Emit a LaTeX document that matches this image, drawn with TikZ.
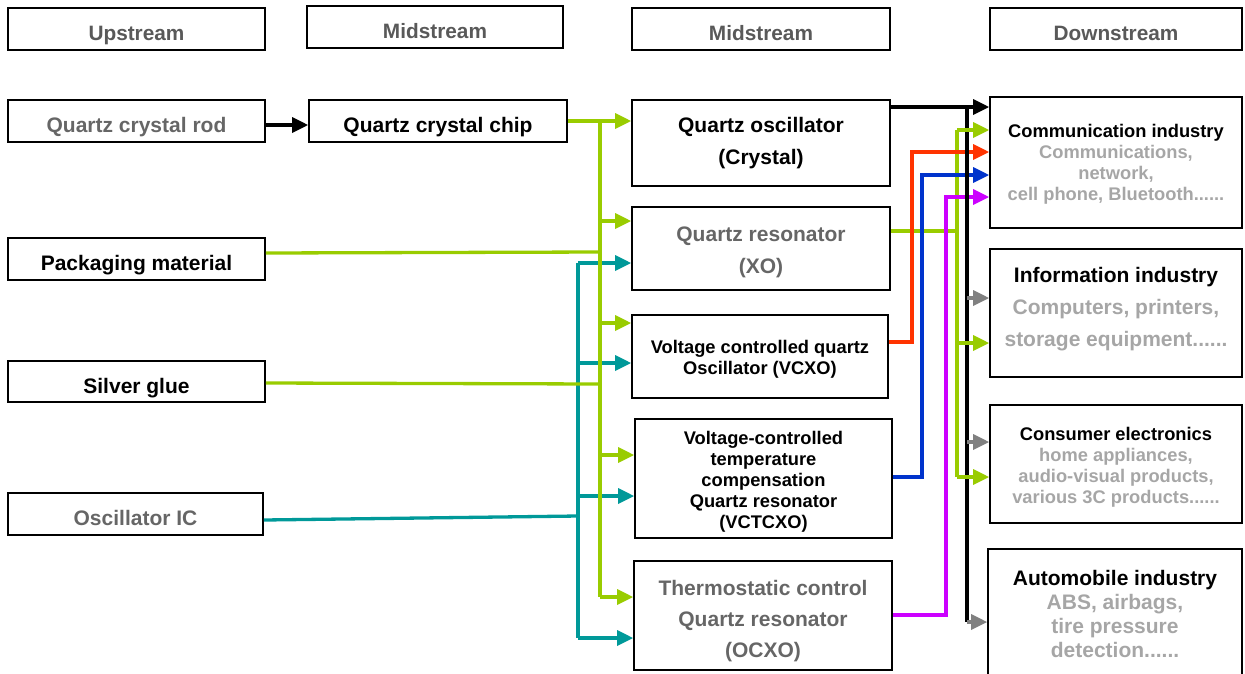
\documentclass[tikz,border=0pt]{standalone}
\usepackage{fontspec}
\setmainfont{Liberation Sans}
\usetikzlibrary{arrows.meta}
\definecolor{cgreen}{HTML}{99CC00}
\definecolor{cteal}{HTML}{009999}
\definecolor{cred}{HTML}{FF3300}
\definecolor{cblue}{HTML}{0033CC}
\definecolor{cmag}{HTML}{CC00FF}
\definecolor{carrgray}{HTML}{808080}
\definecolor{hgray}{HTML}{595959}
\definecolor{mgray}{HTML}{666666}
\definecolor{lgray}{HTML}{A6A6A6}
\newcommand\tallstrut[1]{\vrule height #1 depth 0pt width 0pt}
\newcommand\deepstrut[1]{\vrule height 0pt depth #1 width 0pt}
\tikzset{
  box/.style={draw=black, line width=1.6pt, inner sep=0pt, align=center, font=\bfseries\fontsize{21}{32}\selectfont},
  oneline/.style={text height=25pt, text depth=2pt},
  hbox/.style={box, oneline, text=hgray, font=\bfseries\fontsize{20.8}{24}\selectfont},
  smallbox/.style={box, font=\bfseries\fontsize{18.3}{21}\selectfont},
  conn/.style={line width=3.3pt},
  tip/.style={-{Triangle[length=16pt,width=15pt]}},
}
\begin{document}
\begin{tikzpicture}[x=1pt,y=-1pt]
\useasboundingbox (0,0) rectangle (1245,673);
\clip (0,0) rectangle (1245,673);
% headers
\node[hbox, minimum width=257pt, minimum height=42pt] (h1) at (136.5,29) {Upstream};
\node[hbox, minimum width=256pt, minimum height=42pt] (h2) at (435,27) {Midstream};
\node[hbox, minimum width=258pt, minimum height=42pt] (h3) at (761,29) {Midstream};
\node[hbox, minimum width=252pt, minimum height=42pt] (h4) at (1116,29) {Downstream};
% left column
\node[box, oneline, text=mgray, minimum width=257pt, minimum height=42pt] (rod) at (136.5,121) {Quartz crystal rod};
\node[box, oneline, minimum width=258pt, minimum height=42pt] (chip) at (438,121) {Quartz crystal chip};
\node[box, oneline, minimum width=257pt, minimum height=42pt] (pack) at (136.5,259) {Packaging material};
\node[box, oneline, minimum width=257pt, minimum height=41pt] (glue) at (136.5,381.5) {Silver glue};
\node[box, oneline, text=mgray, minimum width=255pt, minimum height=42pt] (ic) at (135.5,514) {Oscillator IC};
% middle column
\node[box, minimum width=258pt, minimum height=86pt] (qo) at (761,143) {Quartz oscillator\\(Crystal)};
\node[box, text=mgray, minimum width=258pt, minimum height=83pt] (xo) at (761,248.5) {\tallstrut{21.4pt}Quartz resonator\\(XO)};
\node[smallbox, minimum width=256pt, minimum height=83pt] (vcxo) at (760,356.5) {\tallstrut{19.4pt}Voltage controlled quartz\\Oscillator (VCXO)};
\node[smallbox, minimum width=257pt, minimum height=119pt] (vctcxo) at (763.5,478.5) {\tallstrut{19.4pt}Voltage-controlled\\temperature\\compensation\\Quartz resonator\\(VCTCXO)};
\node[box, text=mgray, font=\bfseries\fontsize{21}{31}\selectfont, minimum width=258pt, minimum height=109pt] (ocxo) at (763,615.5) {\tallstrut{25.4pt}Thermostatic control\\Quartz resonator\\(OCXO)};
% right column
\node[smallbox, minimum width=252pt, minimum height=131pt] (comm) at (1116,162.5) {\tallstrut{17.4pt}Communication industry\\{\color{lgray}Communications,}\\{\color{lgray}network,}\\{\color{lgray}cell phone, Bluetooth......}};
\node[box, minimum width=252pt, minimum height=128pt] (info) at (1116,313) {Information industry\\{\color{lgray}Computers, printers,}\\{\color{lgray}storage equipment......}\deepstrut{12.4pt}};
\node[smallbox, minimum width=252pt, minimum height=118pt] (cons) at (1116,464) {\tallstrut{19.4pt}Consumer electronics\\{\color{lgray}home appliances,}\\{\color{lgray}audio-visual products,}\\{\color{lgray}various 3C products......}};
\node[box, font=\bfseries\fontsize{21}{24}\selectfont, minimum width=254pt, minimum height=131pt] (auto) at (1115,614.5) {Automobile industry\\{\color{lgray}ABS, airbags,}\\{\color{lgray}tire pressure}\\{\color{lgray}detection......}\deepstrut{2pt}};
% coordinates
\coordinate (a0) at (287,125);
\coordinate (g0) at (600,121);
\coordinate (g1) at (600,221);
\coordinate (gp) at (600,252);
\coordinate (g2) at (600,323);
\coordinate (gs) at (600,384);
\coordinate (g3) at (600,455);
\coordinate (g4) at (600,597);
\coordinate (t1) at (578,263);
\coordinate (t2) at (578,363);
\coordinate (t3) at (578,496);
\coordinate (ti) at (578,516);
\coordinate (t4) at (578,638);
\coordinate (k0) at (967,107);
\coordinate (k1) at (967,298);
\coordinate (k2) at (967,442);
\coordinate (k3) at (967,622);
\coordinate (r0) at (957,130);
\coordinate (rx) at (957,231);
\coordinate (r1) at (957,343);
\coordinate (r2) at (957,477);
\coordinate (red1) at (912,342);
\coordinate (red2) at (912,152);
\coordinate (blu1) at (922,477);
\coordinate (blu2) at (922,175);
\coordinate (mag1) at (946,615);
\coordinate (mag2) at (946,197);
% left connectors
\draw[conn, tip, black] (rod.east |- a0) -- (chip.west |- a0);
\draw[conn, cteal] (ic.east) ++(0,6) -- (ti);
\draw[conn, cteal] (t1) -- (t4);
\foreach \c/\b in {t1/xo, t2/vcxo, t3/vctcxo, t4/ocxo}
  \draw[conn, tip, cteal] (\c) -- (\b.west |- \c);
\draw[conn, cgreen] (chip.east |- g0) -- (g0) -- (g4);
\draw[conn, cgreen] (pack.east) ++(0,-6) -- (gp);
\draw[conn, cgreen] (glue.east) ++(0,1.5) -- (gs);
\foreach \c/\b in {g0/qo, g1/xo, g2/vcxo, g3/vctcxo, g4/ocxo}
  \draw[conn, tip, cgreen] (\c) -- (\b.west |- \c);
% right connectors
\draw[conn, cgreen] (xo.east |- rx) -- (rx);
\draw[conn, cgreen] (r0) -- (r2);
\draw[conn, cred, tip] (vcxo.east |- red1) -- (red1) -- (red2) -- (comm.west |- red2);
\draw[conn, cblue, tip] (vctcxo.east |- blu1) -- (blu1) -- (blu2) -- (comm.west |- blu2);
\draw[conn, cmag, tip] (ocxo.east |- mag1) -- (mag1) -- (mag2) -- (comm.west |- mag2);
\draw[conn, black] (k0) -- (k3);
\draw[conn, tip, black] (qo.east |- k0) -- (comm.west |- k0);
\draw[conn, tip, cgreen] (r0) -- (comm.west |- r0);
\draw[conn, tip, cgreen] (r1) -- (info.west |- r1);
\draw[conn, tip, cgreen] (r2) -- (cons.west |- r2);
\draw[conn, tip, carrgray] (k1) -- (info.west |- k1);
\draw[conn, tip, carrgray] (k2) -- (cons.west |- k2);
\draw[conn, tip, carrgray] (k3) -- (auto.west |- k3);
\end{tikzpicture}
\end{document}
